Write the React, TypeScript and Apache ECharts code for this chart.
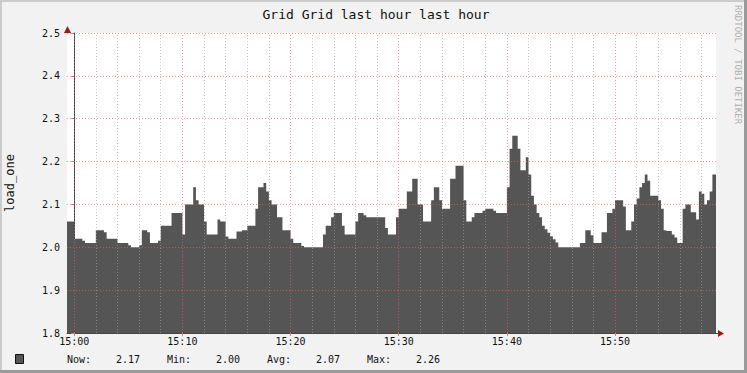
import React, { useEffect, useRef } from "react";
import * as echarts from "echarts";

const TITLE = "Grid Grid last hour last hour";
const Y_NAME = "load_one";
const WATERMARK = "RRDTOOL / TOBI OETIKER";

// seconds after 15:00:00 at which the load value changes (15 s RRD steps)
const CHANGE_TIMES = [
  -45, 0, 45, 60, 120, 165, 180, 240, 300, 315, 360, 375, 405, 420, 465, 480, 540,
  600, 615, 660, 675, 690, 720, 735, 795, 810, 840, 855, 900, 930, 960, 1005, 1020,
  1050, 1065, 1080, 1095, 1125, 1155, 1200, 1215, 1260, 1275, 1380, 1395, 1425, 1440,
  1485, 1500, 1560, 1575, 1605, 1620, 1725, 1740, 1785, 1800, 1845, 1875, 1905, 1935,
  1980, 1995, 2025, 2040, 2085, 2115, 2160, 2175, 2205, 2220, 2265, 2280, 2325, 2340,
  2400, 2415, 2430, 2460, 2475, 2505, 2520, 2535, 2550, 2565, 2580, 2595, 2610, 2625,
  2640, 2655, 2670, 2685, 2805, 2835, 2865, 2880, 2925, 2955, 2985, 3000, 3045, 3060,
  3090, 3105, 3120, 3135, 3150, 3165, 3180, 3195, 3240, 3255, 3270, 3285, 3315, 3330,
  3345, 3375, 3390, 3420, 3450, 3465, 3480, 3495, 3510, 3525, 3540,
];
const LOAD_VALUES = [
  2.06, 2.02, 2.015, 2.01, 2.04, 2.035, 2.02, 2.01, 2.005, 2.0, 2.005, 2.04, 2.035, 2.01, 2.015, 2.05, 2.08,
  2.03, 2.1, 2.14, 2.11, 2.1, 2.06, 2.03, 2.065, 2.06, 2.025, 2.02, 2.037, 2.04, 2.05, 2.09, 2.14,
  2.15, 2.13, 2.11, 2.1, 2.07, 2.04, 2.02, 2.01, 2.003, 2.0, 2.03, 2.05, 2.07, 2.08,
  2.05, 2.03, 2.06, 2.08, 2.075, 2.07, 2.045, 2.03, 2.07, 2.09, 2.13, 2.16, 2.1, 2.06,
  2.11, 2.14, 2.11, 2.09, 2.16, 2.19, 2.11, 2.06, 2.07, 2.08, 2.085, 2.09, 2.085, 2.08,
  2.14, 2.23, 2.26, 2.23, 2.18, 2.21, 2.17, 2.12, 2.1, 2.08, 2.07, 2.05, 2.042, 2.034,
  2.026, 2.019, 2.011, 2.0, 2.01, 2.04, 2.028, 2.01, 2.035, 2.08, 2.09, 2.11, 2.095, 2.04,
  2.06, 2.1, 2.114, 2.14, 2.15, 2.17, 2.155, 2.12, 2.11, 2.09, 2.04, 2.038, 2.03, 2.023,
  2.01, 2.09, 2.1, 2.082, 2.065, 2.13, 2.125, 2.1, 2.11, 2.13, 2.17,
];
const START_TIME = -40;
const END_TIME = 3560;

const X_MAJOR = [0, 600, 1200, 1800, 2400, 3000];
const X_LABELS = ["15:00", "15:10", "15:20", "15:30", "15:40", "15:50"];
const X_MINOR = [
  120, 240, 360, 480, 720, 840, 960, 1080, 1320, 1440, 1560, 1680, 1920, 2040, 2160, 2280,
  2520, 2640, 2760, 2880, 3120, 3240, 3360, 3480,
];
const Y_GRID = [1.9, 2.0, 2.1, 2.2, 2.3, 2.4, 2.5];
const Y_MIN = 1.8;
const Y_MAX = 2.5;

const LEGEND_LABELS = ["Now:", "Min:", "Avg:", "Max:"];
const LEGEND_VALUES = ["2.17", "2.00", "2.07", "2.26"];

const MONO = "'DejaVu Sans Mono', monospace";

export default function App() {
  const ref = useRef<HTMLDivElement>(null);

  useEffect(() => {
    if (!ref.current) return;
    const chart = echarts.init(ref.current, null, { renderer: "svg" });

    const data: [number, number][] = CHANGE_TIMES.map((t, i) => [t, LOAD_VALUES[i]]);
    data.push([END_TIME, LOAD_VALUES[LOAD_VALUES.length - 1]]);

    const majorStyle = { color: "rgba(226,100,100,0.6)", width: 1, type: [1, 2] as any };
    const minorStyle = { color: "rgba(160,160,160,0.6)", width: 1, type: [1, 2] as any };

    const markData: any[] = [
      ...X_MINOR.map((v) => ({ xAxis: v, lineStyle: minorStyle })),
      ...X_MAJOR.map((v) => ({ xAxis: v, lineStyle: majorStyle })),
      ...Y_GRID.map((v) => ({ yAxis: v, lineStyle: majorStyle })),
    ];

    const legendX = [67, 116, 167, 216, 267, 316, 367, 416];
    const legendTexts: any[] = [];
    LEGEND_LABELS.forEach((lab, i) => {
      legendTexts.push({
        type: "text",
        x: legendX[i * 2],
        y: 359,
        style: { text: lab, font: `10px ${MONO}`, fill: "#111", textVerticalAlign: "middle" },
      });
      legendTexts.push({
        type: "text",
        x: legendX[i * 2 + 1],
        y: 359,
        style: { text: LEGEND_VALUES[i], font: `10px ${MONO}`, fill: "#111", textVerticalAlign: "middle" },
      });
    });

    const option: any = {
      animation: false,
      backgroundColor: "#f2f2f2",
      grid: {
        left: 67,
        right: 31,
        top: 33,
        bottom: 40,
        show: true,
        backgroundColor: "#ffffff",
        borderWidth: 0,
      },
      xAxis: {
        type: "value",
        min: START_TIME,
        max: END_TIME,
        splitLine: { show: false },
        axisLine: { show: true, onZero: false, lineStyle: { color: "#444", width: 1 } },
        axisTick: {
          show: true,
          customValues: X_MAJOR,
          length: 3,
          lineStyle: { color: "#d08080" },
        },
        axisLabel: {
          customValues: X_MAJOR,
          margin: 3,
          fontFamily: "DejaVu Sans Mono",
          fontSize: 10,
          color: "#111",
          formatter: (v: number) => {
            const idx = X_MAJOR.indexOf(Math.round(v));
            return idx >= 0 ? X_LABELS[idx] : "";
          },
        },
      },
      yAxis: {
        type: "value",
        min: Y_MIN,
        max: Y_MAX,
        interval: 0.1,
        splitLine: { show: false },
        axisLine: { show: true, lineStyle: { color: "#444", width: 1 } },
        axisTick: { show: true, length: 3, lineStyle: { color: "#c08080" } },
        axisLabel: {
          margin: 7,
          fontFamily: "DejaVu Sans Mono",
          fontSize: 10,
          color: "#111",
          formatter: (v: number) => v.toFixed(1),
        },
      },
      series: [
        {
          type: "line",
          step: "end",
          symbol: "none",
          data,
          lineStyle: { width: 0, color: "#555555" },
          areaStyle: { color: "#555555", opacity: 1, origin: "start" },
          markLine: {
            silent: true,
            symbol: ["none", "none"],
            label: { show: false },
            emphasis: { disabled: true },
            data: markData,
          },
        },
      ],
      graphic: [
        {
          type: "text",
          x: 376,
          y: 14,
          style: {
            text: TITLE,
            font: `13px ${MONO}`,
            fill: "#111",
            textAlign: "center",
            textVerticalAlign: "middle",
          },
        },
        {
          type: "text",
          x: 10,
          y: 183,
          rotation: Math.PI / 2,
          style: {
            text: Y_NAME,
            font: `12px ${MONO}`,
            fill: "#111",
            textAlign: "center",
            textVerticalAlign: "middle",
          },
        },
        {
          type: "text",
          x: 738,
          y: 5,
          rotation: -Math.PI / 2,
          style: {
            text: WATERMARK,
            font: `9px ${MONO}`,
            fill: "#b0b0b0",
            textAlign: "left",
            textVerticalAlign: "middle",
          },
        },
        {
          type: "rect",
          shape: { x: 15.5, y: 354.5, width: 8, height: 9 },
          style: { fill: "#555555", stroke: "#111", lineWidth: 1 },
        },
        ...legendTexts,
        // axis arrows
        {
          type: "line",
          shape: { x1: 716, y1: 333.5, x2: 720, y2: 333.5 },
          style: { stroke: "#444", lineWidth: 1 },
        },
        {
          type: "polygon",
          shape: { points: [[718, 330], [724, 333.5], [718, 337]] },
          style: { fill: "#a01818" },
        },
        {
          type: "line",
          shape: { x1: 67.5, y1: 33, x2: 67.5, y2: 30 },
          style: { stroke: "#444", lineWidth: 1 },
        },
        {
          type: "polygon",
          shape: { points: [[64, 33], [67.5, 26], [71, 33]] },
          style: { fill: "#a01818" },
        },
        // frame
        { type: "rect", shape: { x: 0, y: 0, width: 747, height: 2 }, style: { fill: "#cccccc" } },
        { type: "rect", shape: { x: 0, y: 0, width: 2, height: 373 }, style: { fill: "#cccccc" } },
        { type: "rect", shape: { x: 744, y: 0, width: 3, height: 373 }, style: { fill: "#9a9a9a" } },
        { type: "rect", shape: { x: 0, y: 370, width: 747, height: 3 }, style: { fill: "#9a9a9a" } },
      ],
    };

    chart.setOption(option);
    return () => chart.dispose();
  }, []);

  return (
    <div
      ref={ref}
      style={{ position: "fixed", left: 0, top: 0, width: 747, height: 373 }}
    />
  );
}
